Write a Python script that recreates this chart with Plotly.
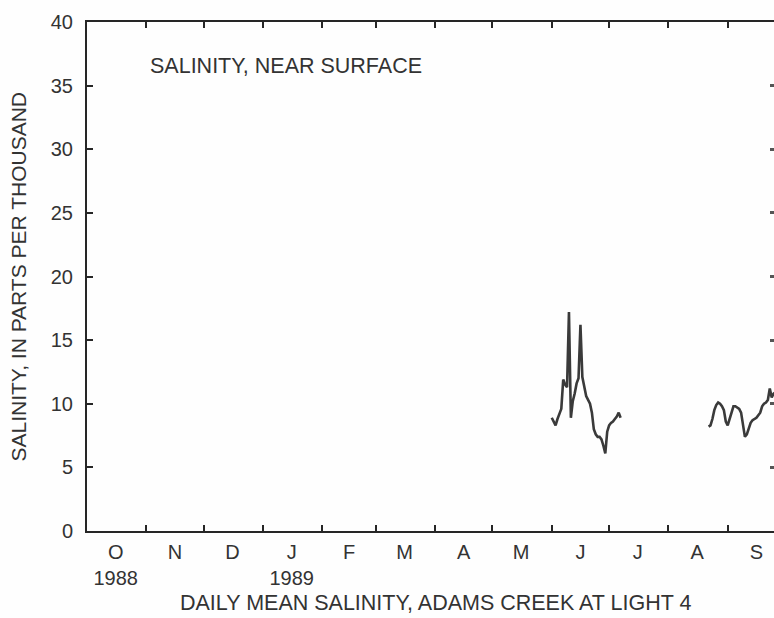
import plotly.graph_objects as go
import pandas as pd

# ---- data ----
seg1_start = "1989-06-01"
seg1_values = [8.9, 8.6, 8.3, 8.8, 9.3, 9.6, 11.9, 11.5, 11.3, 17.2, 8.9, 10.2,
               10.8, 11.6, 12.0, 16.2, 12.1, 11.3, 10.6, 10.3, 10.0, 9.3, 8.0, 7.6,
               7.4, 7.4, 7.2, 6.7, 6.1, 7.8, 8.3, 8.5, 8.6, 8.8, 9.0, 9.3, 8.9]
seg2_start = "1989-08-22"
seg2_values = [8.2, 8.3, 8.8, 9.5, 9.9, 10.1, 10.0, 9.8, 9.5, 8.6, 8.3, 8.8,
               9.4, 9.8, 9.8, 9.7, 9.6, 9.3, 8.2, 7.4, 7.6, 8.0, 8.5, 8.7,
               8.8, 8.9, 9.1, 9.3, 9.8, 10.0, 10.1, 10.3, 11.2, 10.5, 10.8, 10.9]

month_ticks = ["1988-11-01", "1988-12-01", "1989-01-01", "1989-02-01", "1989-03-01",
               "1989-04-01", "1989-05-01", "1989-06-01", "1989-07-01", "1989-08-01",
               "1989-09-01"]
month_mids = ["1988-10-16", "1988-11-16", "1988-12-16", "1989-01-16", "1989-02-15",
              "1989-03-16", "1989-04-16", "1989-05-16", "1989-06-16", "1989-07-16",
              "1989-08-16", "1989-09-16"]
month_labels = ["O<br>1988", "N", "D", "J<br>1989", "F", "M", "A", "M", "J", "J", "A", "S"]
y_ticks = [0, 5, 10, 15, 20, 25, 30, 35, 40]
y_right_ticks = [5, 10, 15, 20, 25, 30, 35]

x_range = ["1988-10-01", "1989-09-25 05:00"]

d1 = pd.date_range(seg1_start, periods=len(seg1_values), freq="D")
d2 = pd.date_range(seg2_start, periods=len(seg2_values), freq="D")

FONT = "Liberation Sans, Arial, sans-serif"
INK = "#333333"
AX = "#262626"

fig = go.Figure()
for d, v in ((d1, seg1_values), (d2, seg2_values)):
    fig.add_trace(go.Scatter(x=d, y=v, mode="lines",
                             line=dict(color="#3a3a3a", width=2.6),
                             showlegend=False, hoverinfo="skip"))
# carrier trace for month-label axis and right tick axis
fig.add_trace(go.Scatter(x=month_mids, y=[None] * len(month_mids), xaxis="x2",
                         yaxis="y2", mode="lines", showlegend=False,
                         hoverinfo="skip"))

fig.update_layout(
    width=774, height=618,
    margin=dict(l=87, r=0, t=22, b=87),
    paper_bgcolor="#fefefe", plot_bgcolor="#fefefe",
    font=dict(family=FONT, color=INK, size=20),
    xaxis=dict(type="date", range=x_range, tickvals=month_ticks,
               showticklabels=False, ticks="inside", ticklen=6, tickwidth=1.5,
               tickcolor=AX, showline=True, linecolor=AX, linewidth=2,
               mirror="ticks", showgrid=False, zeroline=False),
    xaxis2=dict(type="date", range=x_range, overlaying="x", side="bottom",
                tickvals=month_mids, ticktext=month_labels, ticks="",
                showline=False, showgrid=False, zeroline=False,
                tickfont=dict(size=20, color=INK), ticklabelstandoff=7),
    yaxis=dict(range=[0, 40], tickvals=y_ticks, ticks="inside", ticklen=6,
               tickwidth=1.5, tickcolor=AX, showline=True, linecolor=AX,
               linewidth=2, showgrid=False, zeroline=False,
               tickfont=dict(size=20, color=INK), ticklabelstandoff=8),
    yaxis2=dict(range=[0, 40], overlaying="y", side="right", tickvals=y_right_ticks,
                ticks="inside", ticklen=4, tickwidth=2.5, tickcolor="#555555",
                showticklabels=False, showline=False, showgrid=False,
                zeroline=False),
    annotations=[
        dict(text="SALINITY, NEAR SURFACE", xref="paper", yref="paper",
             x=0.0888, y=0.9136, xanchor="left", yanchor="middle",
             showarrow=False, font=dict(size=21.5, color=INK)),
        dict(text="DAILY MEAN SALINITY, ADAMS CREEK AT LIGHT 4", xref="paper",
             yref="paper", x=0.507, y=-0.1415, xanchor="center", yanchor="middle",
             showarrow=False, font=dict(size=21.5, color=INK)),
        dict(text="SALINITY, IN PARTS PER THOUSAND", xref="paper", yref="paper",
             x=-0.1004, y=0.5, xanchor="center", yanchor="middle", textangle=-90,
             showarrow=False, font=dict(size=21, color=INK)),
    ],
)

fig.write_html(
    "out.html",
    config={"displayModeBar": False},
    post_script="document.body.style.margin='0';document.body.style.overflow='hidden';",
)
